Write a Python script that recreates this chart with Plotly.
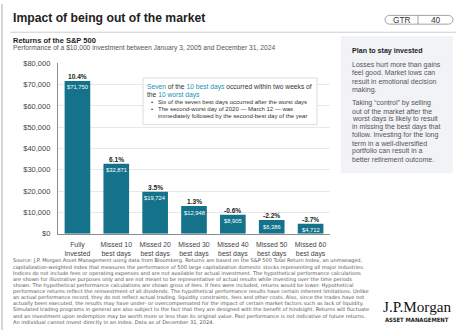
import plotly.graph_objects as go

W, H = 456, 335
def X(x): return x / W
def Y(y): return 1 - y / H

categories = ["Fully<br>Invested", "Missed 10<br>best days", "Missed 20<br>best days",
              "Missed 30<br>best days", "Missed 40<br>best days", "Missed 50<br>best days",
              "Missed 60<br>best days"]
values = [71750, 32871, 19724, 12948, 8905, 6386, 4712]
returns = ["10.4%", "6.1%", "3.5%", "1.3%", "-0.6%", "-2.2%", "-3.7%"]
value_labels = ["$71,750", "$32,871", "$19,724", "$12,948", "$8,905", "$6,386", "$4,712"]
y_ticks = [0, 10000, 20000, 30000, 40000, 50000, 60000, 70000, 80000]
y_tick_labels = ["$0", "$10,000", "$20,000", "$30,000", "$40,000", "$50,000",
                 "$60,000", "$70,000", "$80,000"]

footnote = [
    "Source: J.P. Morgan Asset Management using data from Bloomberg. Returns are based on the S&P 500 Total Return Index, an unmanaged,",
    "capitalization-weighted index that measures the performance of 500 large capitalization domestic stocks representing all major industries.",
    "Indices do not include fees or operating expenses and are not available for actual investment. The hypothetical performance calculations",
    "are shown for illustrative purposes only and are not meant to be representative of actual results while investing over the time periods",
    "shown. The hypothetical performance calculations are shown gross of fees. If fees were included, returns would be lower. Hypothetical",
    "performance returns reflect the reinvestment of all dividends. The hypothetical performance results have certain inherent limitations. Unlike",
    "an actual performance record, they do not reflect actual trading, liquidity constraints, fees and other costs. Also, since the trades have not",
    "actually been executed, the results may have under- or overcompensated for the impact of certain market factors such as lack of liquidity.",
    "Simulated trading programs in general are also subject to the fact that they are designed with the benefit of hindsight. Returns will fluctuate",
    "and an investment upon redemption may be worth more or less than its original value. Past performance is not indicative of future returns.",
    "An individual cannot invest directly in an index. Data as of December 31, 2024.",
]
side_p1 = ["Losses hurt more than gains", "feel good. Market lows can",
           "result in emotional decision", "making."]
side_p2 = ["Taking \u201ccontrol\u201d by selling", "out of the market after the",
           "worst days is likely to result", "in missing the best days that",
           "follow. Investing for the long", "term in a well-diversified",
           "portfolio can result in a", "better retirement outcome."]

FONT = "Liberation Sans, Arial, sans-serif"
WIDE = "DejaVu Sans, sans-serif"
BAR = "#14738b"
TEAL = "#2390b3"
DARK = "#222222"
GRAY = "#555555"

fig = go.Figure()
fig.add_trace(go.Bar(x=categories, y=values, marker=dict(color=BAR, line=dict(width=0)),
                     hoverinfo="skip", showlegend=False))

ann = []
for c, v, r, vl in zip(categories, values, returns, value_labels):
    ann.append(dict(x=c, y=v, xref="x", yref="y", text="<b>%s</b>" % r, showarrow=False,
                    yanchor="bottom", yshift=0, borderpad=0,
                    font=dict(size=6.6, color=DARK, family=FONT)))
    ann.append(dict(x=c, y=v, xref="x", yref="y", text=vl, showarrow=False,
                    yanchor="top", yshift=-2.5, borderpad=0,
                    font=dict(size=5.8, color="white", family=FONT)))

def txt(x, y, text, size, color=DARK, xanchor="left", family=FONT):
    ann.append(dict(x=X(x), y=Y(y), xref="paper", yref="paper", text=text, showarrow=False,
                    xanchor=xanchor, yanchor="middle", align="left", borderpad=0,
                    font=dict(size=size, color=color, family=family)))

txt(12, 14, "<b>Impact of being out of the market</b>", 12.2)
txt(402, 16.2, "GTR", 8.3, "#333", "center")
txt(436, 16.2, "40", 8.3, "#333", "center")
txt(12, 37.3, "<b>Returns of the S&P 500</b>", 7.5)
txt(12, 45.2, "Performance of a $10,000 investment between January 3, 2005 and December 31, 2024", 6.7, GRAY)

t = lambda s: "<span style='color:%s'>%s</span>" % (TEAL, s)
txt(146, 85, t("Seven") + " of the " + t("10 best days") + " occurred within two weeks of", 6.7, "#333")
txt(146, 93, "the " + t("10 worst days"), 6.7, "#333")
txt(150, 101, "\u2022", 6.0, "#333")
txt(157, 101, "Six of the seven best days occurred after the worst days", 6.0, "#333")
txt(150, 108, "\u2022", 6.0, "#333")
txt(157, 108, "The second-worst day of 2020 \u2014 March 12 \u2014 was", 6.0, "#333")
txt(157, 115, "immediately followed by the second-best day of the year", 6.0, "#333")

txt(351, 48, "<b>Plan to stay invested</b>", 7.1)
for i, s in enumerate(side_p1):
    txt(351, 63 + i * 8.3, s, 7.0, GRAY)
for i, s in enumerate(side_p2):
    txt(351, 102 + i * 8.2, s, 7.0, GRAY)

for i, s in enumerate(footnote):
    txt(12, 264 + i * 6.3, s, 5.05, GRAY, family=WIDE)

txt(417, 311, "J.P.Morgan", 15.2, "#111", "center", "Liberation Serif, Times New Roman, serif")
txt(417, 325, "<b>ASSET MANAGEMENT</b>", 5.9, "#222", "center", "DejaVu Sans Condensed, DejaVu Sans, sans-serif")

def rounded_pill(x0, y0, x1, y1):
    r = (y1 - y0) / 2
    k = 0.55 * r
    ym = (y0 + y1) / 2
    pts = [("M", [(x0 + r, y0)]), ("L", [(x1 - r, y0)]),
           ("C", [(x1 - r + k, y0), (x1, ym - k), (x1, ym)]),
           ("C", [(x1, ym + k), (x1 - r + k, y1), (x1 - r, y1)]),
           ("L", [(x0 + r, y1)]),
           ("C", [(x0 + r - k, y1), (x0, ym + k), (x0, ym)]),
           ("C", [(x0, ym - k), (x0 + r - k, y0), (x0 + r, y0)])]
    p = ""
    for cmd, ps in pts:
        p += cmd + " " + " ".join("%.5f,%.5f" % (X(a), Y(b)) for a, b in ps) + " "
    return p + "Z"

shapes = [
    dict(type="line", xref="paper", yref="paper", x0=X(2), x1=X(2), y0=0, y1=1,
         line=dict(color="#c9c9c9", width=1.5)),
    dict(type="line", xref="paper", yref="paper", x0=X(10), x1=1, y0=Y(29), y1=Y(29),
         line=dict(color="#cfcfcf", width=1)),
    dict(type="path", xref="paper", yref="paper", path=rounded_pill(385, 11.7, 453, 20.7),
         line=dict(color="#8a8a8a", width=0.8)),
    dict(type="line", xref="paper", yref="paper", x0=X(418), x1=X(418), y0=Y(11.7), y1=Y(20.7),
         line=dict(color="#8a8a8a", width=0.8)),
    dict(type="rect", xref="paper", yref="paper", x0=X(341), x1=X(453), y0=Y(174), y1=Y(33),
         fillcolor="#f1f3f6", line=dict(width=0), layer="below"),
    dict(type="rect", xref="paper", yref="paper", x0=X(143), x1=X(317), y0=Y(124), y1=Y(76),
         fillcolor="white", line=dict(color="#dcdcdc", width=1), layer="above"),
]

fig.update_layout(
    width=W, height=H, autosize=False,
    margin=dict(l=0, r=0, t=0, b=0),
    paper_bgcolor="white", plot_bgcolor="white",
    bargap=0.34, showlegend=False,
    font=dict(family=FONT, color="#444"),
    xaxis=dict(domain=[X(58), X(330)], showgrid=False, showline=True, linecolor="#8c8c8c",
               linewidth=1.2, ticks="", ticklabelstandoff=4,
               tickfont=dict(size=6.9, color="#444"), fixedrange=True),
    yaxis=dict(domain=[Y(236), Y(61)], range=[0, 80000], tickvals=y_ticks,
               ticktext=y_tick_labels, showgrid=True, gridcolor="#e8e8e8",
               gridwidth=1, zeroline=False, showline=True, linecolor="#8c8c8c", linewidth=1.2,
               ticks="", ticklabelstandoff=5, tickfont=dict(size=7.5, color="#444"),
               fixedrange=True),
    annotations=ann, shapes=shapes,
)

fig.write_html("out.html")
